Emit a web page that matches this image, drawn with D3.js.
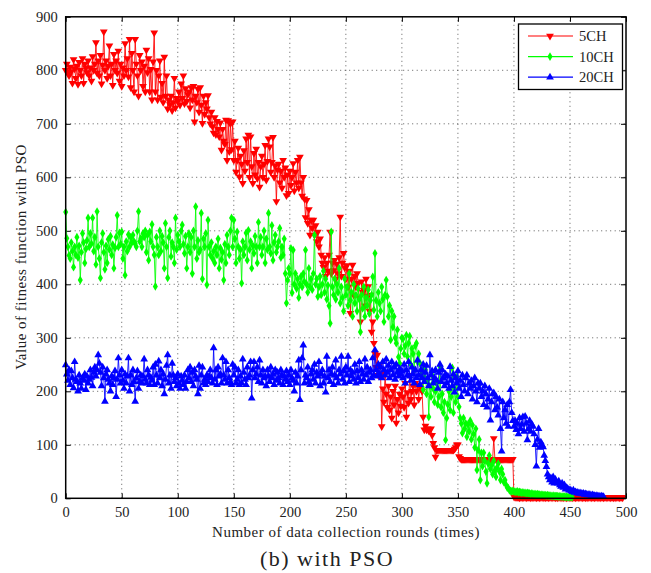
<!DOCTYPE html>
<html>
<head>
<meta charset="utf-8">
<script src="https://cdn.jsdelivr.net/npm/d3@7/dist/d3.min.js"></script>
<style>
  html, body { margin: 0; padding: 0; background: #fff; }
  svg { display: block; }
  text { font-family: "Liberation Serif", "DejaVu Serif", serif; fill: #222; }
</style>
</head>
<body>
<svg id="chart" width="651" height="573"></svg>
<script>
// Fitness value per data collection round (round index = array index)
const fitness5CH = [
  800, 812, 795, 790, 806, 798, 776, 820, 803, 785,
  808, 774, 815, 800, 790, 822, 776, 812, 805, 796,
  818, 790, 805, 780, 826, 800, 812, 852, 795, 818,
  790, 828, 775, 810, 872, 800, 818, 785, 808, 846,
  790, 812, 772, 830, 800, 818, 795, 836, 780, 812,
  770, 805, 790, 850, 800, 822, 788, 858, 768, 832,
  800, 760, 858, 812, 790, 752, 828, 800, 816, 770,
  808, 760, 838, 796, 822, 760, 802, 745, 816, 870,
  760, 800, 745, 790, 818, 750, 776, 740, 825, 752,
  790, 728, 745, 736, 752, 725, 740, 785, 730, 748,
  742, 760, 735, 775, 748, 790, 738, 766, 742, 755,
  760, 730, 768, 745, 770, 704, 752, 740, 765, 722,
  768, 735, 701, 752, 718, 740, 728, 753, 712, 700,
  722, 695, 683, 712, 680, 705, 690, 676, 702, 651,
  690, 668, 662, 707, 632, 706, 648, 700, 652, 704,
  632, 668, 610, 632, 655, 601, 640, 625, 589, 650,
  612, 672, 628, 679, 600, 676, 620, 589, 645, 605,
  653, 598, 628, 582, 620, 640, 600, 625, 660, 595,
  630, 672, 657, 610, 628, 675, 600, 622, 555, 614,
  625, 590, 612, 580, 632, 600, 618, 566, 605, 570,
  612, 585, 600, 626, 575, 610, 590, 632, 580, 638,
  590, 565, 600, 560, 525, 557, 514, 540, 492, 520,
  505, 520, 492, 510, 480, 498, 470, 485, 455, 440,
  432, 450, 415, 440, 425, 455, 498, 420, 440, 426,
  445, 410, 438, 420, 450, 526, 415, 440, 458, 431,
  410, 435, 395, 425, 346, 410, 436, 380, 415, 395,
  420, 402, 375, 330, 405, 385, 389, 360, 410, 378,
  396, 350, 380, 311, 330, 290, 270, 245, 268, 230,
  250, 232, 134, 205, 180, 232, 195, 170, 210, 165,
  190, 150, 200, 175, 210, 141, 185, 160, 195, 172,
  205, 190, 170, 215, 152, 198, 178, 230, 185, 200,
  210, 175, 215, 200, 212, 185, 210, 205, 200, 152,
  128, 135, 128, 130, 126, 128, 130, 118, 103, 95,
  77, 90, 90, 90, 90, 90, 90, 90, 90, 90,
  90, 90, 90, 90, 90, 90, 90, 92, 95, 100,
  100, 78, 75, 73, 73, 73, 73, 73, 73, 73,
  73, 73, 73, 73, 73, 73, 73, 73, 73, 73,
  73, 73, 73, 73, 73, 73, 73, 73, 73, 73,
  73, 73, 112, 73, 73, 73, 73, 73, 73, 73,
  73, 73, 73, 73, 73, 73, 73, 73, 73, 73,
  3, 2, 2, 2, 2, 1, 2, 2, 1, 2,
  2, 1, 2, 2, 2, 1, 2, 1, 2, 2,
  1, 2, 2, 1, 2, 2, 1, 2, 1, 2,
  2, 1, 2, 2, 1, 2, 2, 1, 2, 1,
  2, 2, 1, 2, 1, 2, 2, 1, 2, 2,
  1, 2, 1, 2, 2, 1, 2, 2, 1, 2,
  2, 1, 2, 2, 1, 2, 1, 2, 2, 1,
  2, 2, 1, 2, 2, 1, 2, 1, 2, 2,
  1, 2, 2, 1, 2, 2, 1, 2, 2, 1,
  2, 1, 2, 2, 1, 2, 2, 1
];

const fitness10CH = [
  535, 486, 470, 454, 448, 478, 462, 432, 470, 455,
  488, 450, 472, 408, 460, 495, 478, 440, 466, 482,
  524, 470, 495, 476, 524, 462, 488, 437, 536, 470,
  448, 412, 478, 495, 460, 428, 472, 440, 484, 465,
  490, 455, 474, 430, 468, 488, 529, 470, 496, 475,
  498, 448, 470, 417, 480, 462, 493, 470, 488, 478,
  492, 480, 476, 470, 500, 536, 480, 486, 470, 495,
  488, 500, 460, 492, 445, 498, 480, 512, 470, 455,
  396, 488, 470, 455, 500, 462, 490, 478, 430, 514,
  470, 412, 488, 500, 452, 478, 470, 440, 524, 465,
  492, 480, 470, 500, 511, 475, 458, 490, 430, 470,
  495, 460, 488, 420, 500, 470, 545, 448, 482, 460,
  465, 533, 410, 485, 470, 495, 399, 520, 470, 455,
  478, 448, 462, 440, 470, 455, 485, 430, 468, 446,
  460, 408, 475, 440, 492, 470, 455, 500, 524, 470,
  520, 485, 440, 498, 470, 448, 465, 402, 480, 455,
  470, 496, 445, 501, 465, 480, 430, 472, 458, 490,
  470, 440, 516, 470, 488, 455, 470, 500, 440, 485,
  465, 533, 470, 458, 510, 445, 478, 492, 460, 470,
  480, 505, 450, 470, 455, 485, 420, 365, 408, 430,
  420, 467, 384, 464, 400, 420, 392, 410, 375, 400,
  415, 395, 420, 405, 464, 400, 385, 430, 395, 410,
  390, 420, 492, 400, 410, 377, 395, 415, 380, 400,
  425, 385, 410, 372, 398, 360, 327, 498, 395, 380,
  410, 372, 400, 385, 430, 365, 395, 375, 350, 410,
  380, 395, 360, 420, 370, 385, 340, 400, 365, 380,
  350, 392, 372, 311, 380, 355, 395, 340, 375, 360,
  390, 345, 370, 380, 414, 352, 458, 370, 340, 385,
  365, 350, 395, 372, 330, 380, 408, 377, 340, 360,
  296, 350, 320, 340, 300, 290, 315, 264, 252, 280,
  300, 298, 270, 285, 305, 265, 290, 303, 250, 280,
  270, 240, 285, 290, 255, 270, 253, 230, 240, 203,
  225, 240, 195, 220, 152, 210, 190, 230, 205, 180,
  200, 215, 175, 190, 246, 170, 195, 160, 180, 109,
  150, 175, 200, 165, 190, 244, 160, 205, 180, 227,
  190, 171, 150, 140, 122, 150, 130, 140, 115, 138,
  125, 145, 110, 137, 120, 95, 130, 53, 90, 110,
  34, 85, 60, 85, 70, 50, 28, 65, 80, 55,
  62, 45, 70, 52, 40, 58, 65, 50, 34, 55,
  45, 30, 34, 25, 20, 19, 15, 14, 13, 14,
  13, 12, 12, 13, 11, 12, 11, 10, 11, 10,
  10, 9, 10, 9, 9, 8, 9, 8, 8, 8,
  7, 8, 7, 7, 6, 7, 6, 6, 6, 5,
  6, 5, 5, 5, 4, 5, 4, 4, 4, 4,
  3, 4, 3, 3, 3, 3, 2, 3, 2, 2,
  2, 2, 2
];

const fitness20CH = [
  249, 232, 220, 240, 212, 238, 225, 206, 255, 222,
  218, 200, 230, 215, 205, 225, 220, 232, 203, 228,
  215, 222, 240, 226, 210, 235, 245, 228, 240, 268,
  252, 235, 210, 245, 225, 181, 232, 240, 222, 215,
  200, 228, 212, 225, 238, 190, 222, 262, 230, 215,
  240, 220, 205, 232, 215, 228, 262, 200, 230, 212,
  240, 218, 181, 225, 238, 205, 218, 230, 215, 228,
  260, 222, 215, 240, 230, 212, 226, 220, 245, 212,
  250, 230, 215, 256, 225, 240, 210, 232, 195, 222,
  248, 268, 215, 230, 205, 252, 230, 218, 225, 210,
  232, 215, 205, 228, 220, 212, 230, 205, 218, 240,
  225, 245, 218, 235, 210, 240, 228, 222, 195, 248,
  205, 230, 245, 215, 222, 212, 230, 218, 228, 240,
  225, 215, 281, 222, 240, 212, 245, 228, 232, 215,
  262, 230, 222, 255, 215, 240, 225, 218, 212, 250,
  230, 245, 215, 222, 240, 212, 228, 215, 260, 235,
  222, 212, 245, 225, 230, 255, 187, 240, 255, 225,
  232, 245, 218, 258, 230, 215, 240, 225, 228, 210,
  240, 228, 218, 245, 225, 232, 212, 240, 220, 235,
  225, 215, 240, 230, 212, 228, 222, 238, 218, 230,
  212, 240, 225, 220, 200, 235, 215, 228, 258, 184,
  240, 262, 286, 215, 230, 225, 245, 218, 212, 232,
  240, 222, 250, 215, 235, 228, 255, 210, 232, 240,
  215, 228, 198, 265, 225, 240, 218, 232, 245, 212,
  230, 258, 225, 215, 240, 232, 265, 222, 238, 215,
  245, 230, 265, 218, 240, 228, 235, 222, 250, 215,
  238, 225, 255, 218, 240, 232, 222, 260, 230, 245,
  218, 235, 240, 225, 262, 230, 277, 240, 228, 250,
  232, 245, 225, 255, 240, 230, 260, 235, 248, 225,
  240, 255, 230, 245, 222, 250, 235, 228, 242, 232,
  238, 225, 250, 215, 240, 230, 255, 228, 220, 245,
  232, 215, 240, 225, 258, 230, 212, 240, 225, 250,
  218, 235, 248, 225, 210, 268, 230, 238, 215, 225,
  240, 220, 205, 235, 250, 218, 240, 225, 210, 232,
  215, 228, 205, 246, 220, 210, 232, 198, 225, 215,
  238, 205, 220, 190, 230, 212, 200, 225, 230, 195,
  215, 205, 220, 185, 210, 225, 200, 180, 215, 205,
  215, 190, 200, 175, 210, 195, 170, 185, 205, 146,
  180, 195, 197, 165, 190, 170, 155, 185, 130, 88,
  180, 150, 165, 140, 175, 134, 180, 203, 160, 145,
  134, 145, 128, 140, 120, 150, 130, 138, 152, 125,
  153, 140, 109, 130, 145, 125, 138, 134, 120, 100,
  60, 110, 130, 95, 105, 100, 96, 80, 70, 59,
  45, 40, 34, 38, 30, 40, 28, 35, 30, 28,
  32, 25, 22, 28, 20, 25, 17, 20, 18, 15,
  16, 14, 12, 15, 11, 12, 10, 11, 9, 10,
  9, 8, 9, 7, 8, 7, 6, 7, 6, 5,
  6, 5, 5, 4, 5, 4, 4, 3, 4, 3,
  3
];

const seriesNames = ["5CH", "10CH", "20CH"];
const seriesColors = ["#ff0000", "#00ff00", "#0000ff"];
const xTicks = [0, 50, 100, 150, 200, 250, 300, 350, 400, 450, 500];
const yTicks = [0, 100, 200, 300, 400, 500, 600, 700, 800, 900];

const svg = d3.select("#chart");
const plotL = 65.7, plotR = 626, plotT = 16.8, plotB = 498.3;

const x = d3.scaleLinear().domain([0, 500]).range([plotL, plotR]);
const y = d3.scaleLinear().domain([0, 900]).range([plotB, plotT]);

// dotted grid
const grid = svg.append("g").attr("stroke", "#333").attr("stroke-width", 0.8)
  .attr("stroke-dasharray", "1,3.5");
grid.selectAll(".gx").data(xTicks.slice(1, -1)).join("line")
  .attr("x1", d => x(d)).attr("x2", d => x(d)).attr("y1", plotB).attr("y2", plotT);
grid.selectAll(".gy").data(yTicks.slice(1, -1)).join("line")
  .attr("y1", d => y(d)).attr("y2", d => y(d)).attr("x1", plotL).attr("x2", plotR);

// axes (ticks inward on all four sides)
const axisFont = g => g.selectAll("text")
  .style("font-family", '"Liberation Serif", "DejaVu Serif", serif')
  .style("font-size", "14.5px").attr("fill", "#222");

svg.append("g").attr("transform", `translate(0,${plotB})`)
  .call(d3.axisBottom(x).tickValues(xTicks).tickSize(-5).tickPadding(8).tickFormat(d3.format("d")))
  .call(g => g.select(".domain").remove())
  .call(axisFont);
svg.append("g").attr("transform", `translate(${plotL},0)`)
  .call(d3.axisLeft(y).tickValues(yTicks).tickSize(-5).tickPadding(8).tickFormat(d3.format("d")))
  .call(g => g.select(".domain").remove())
  .call(axisFont);
svg.append("g").attr("transform", `translate(0,${plotT})`)
  .call(d3.axisTop(x).tickValues(xTicks).tickSize(-5).tickFormat(""))
  .call(g => g.select(".domain").remove());
svg.append("g").attr("transform", `translate(${plotR},0)`)
  .call(d3.axisRight(y).tickValues(yTicks).tickSize(-5).tickFormat(""))
  .call(g => g.select(".domain").remove());

// series
const seriesData = [fitness5CH, fitness10CH, fitness20CH];
const symbols = [
  d3.symbol().type(d3.symbolTriangle).size(26),
  d3.symbol().type(d3.symbolDiamond).size(22),
  d3.symbol().type(d3.symbolTriangle).size(26)
];
const rotations = [180, 0, 0];

const line = d3.line().x((d, i) => x(i)).y(d => y(d));

seriesData.forEach((vals, k) => {
  const g = svg.append("g");
  g.append("path").datum(vals)
    .attr("fill", "none")
    .attr("stroke", seriesColors[k])
    .attr("stroke-width", 1)
    .attr("stroke-opacity", 0.85)
    .attr("d", line);
  g.selectAll("path.m").data(vals).join("path")
    .attr("class", "m")
    .attr("d", symbols[k])
    .attr("fill", seriesColors[k])
    .attr("transform", (d, i) => `translate(${x(i)},${y(d)}) rotate(${rotations[k]})`);
});

// frame
svg.append("rect").attr("x", plotL).attr("y", plotT)
  .attr("width", plotR - plotL).attr("height", plotB - plotT)
  .attr("fill", "none").attr("stroke", "#000").attr("stroke-width", 1.5);

// legend
const lg = svg.append("g");
lg.append("rect").attr("x", 518.5).attr("y", 24).attr("width", 104).attr("height", 65.5)
  .attr("fill", "#fff").attr("stroke", "#000").attr("stroke-width", 1.3);
seriesNames.forEach((name, k) => {
  const ly = 36 + k * 20.6;
  lg.append("line").attr("x1", 528).attr("x2", 573).attr("y1", ly).attr("y2", ly)
    .attr("stroke", seriesColors[k]).attr("stroke-width", 1.2);
  lg.append("path").attr("d", symbols[k])
    .attr("fill", seriesColors[k])
    .attr("transform", `translate(550,${ly}) rotate(${rotations[k]})`);
  lg.append("text").attr("x", 579).attr("y", ly + 5)
    .style("font-size", "14.5px").text(name);
});

// axis titles and caption
svg.append("text").attr("x", 346).attr("y", 537).attr("text-anchor", "middle")
  .style("font-size", "15px").style("letter-spacing", "0.5px")
  .text("Number of data collection rounds (times)");
svg.append("text").attr("transform", "translate(26,257) rotate(-90)")
  .attr("text-anchor", "middle").style("font-size", "15px").style("letter-spacing", "0.5px")
  .text("Value of fitness function with PSO");
svg.append("text").attr("x", 327).attr("y", 566).attr("text-anchor", "middle")
  .style("font-size", "22px").style("letter-spacing", "1.5px")
  .text("(b) with PSO");
</script>
</body>
</html>
